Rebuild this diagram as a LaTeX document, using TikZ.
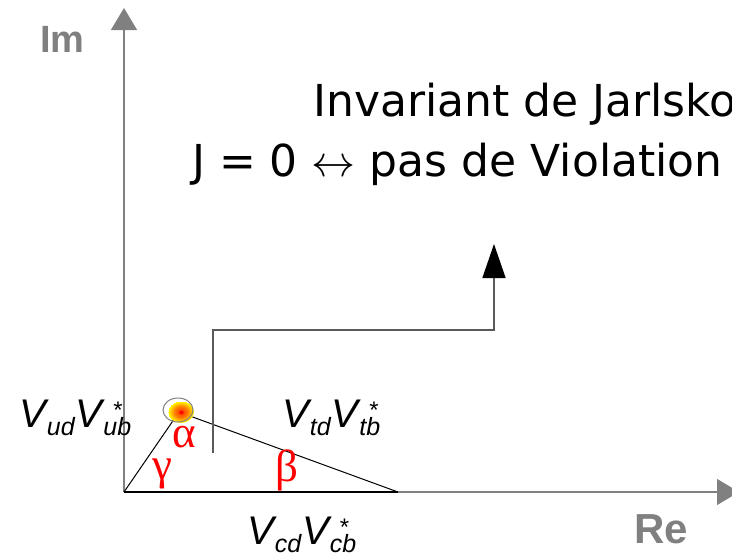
\RequirePackage{fix-cm}
\documentclass[tikz,border=0pt]{standalone}
\usepackage{fontspec}
\setmainfont{DejaVu Sans}
\newfontfamily\axisfont{Liberation Sans}
\newfontfamily\greekfont{Liberation Serif}
\usetikzlibrary{arrows.meta, positioning}
\definecolor{axisgray}{HTML}{808080}
\definecolor{linegray}{HTML}{5A5A5A}
% side of the unitarity triangle, #1 = u, t or c
\newcommand{\subtxt}[1]{\raisebox{-8pt}{\fontsize{25}{25}\selectfont #1}}
\newcommand{\ckmside}[1]{{\axisfont\itshape\fontsize{40}{42}\selectfont
  V\kern1pt\subtxt{#1d}\kern1pt V\rlap{\kern11pt\raisebox{9pt}{\fontsize{24}{24}\selectfont\upshape *}}\kern1pt\subtxt{#1b}}}

\begin{document}
\begin{tikzpicture}[x=1pt, y=-1pt,
  axis/.style={draw=axisgray, line width=1.3pt, -{Triangle[length=22pt, width=26pt]}},
  axlbl/.style={font=\axisfont\bfseries\fontsize{38}{40}\selectfont, text=axisgray, inner sep=0pt, anchor=base west},
  side/.style={draw=black, line width=1pt},
  title/.style={font=\fontsize{44}{50}\selectfont, inner sep=0pt, anchor=base west},
  angle/.style={font=\greekfont\fontsize{45}{50}\selectfont, text=red, inner sep=0pt, anchor=base west},
  vlbl/.style={inner sep=0pt, anchor=base west},
  jline/.style={draw=linegray, line width=1.4pt, -{Triangle[length=34pt, width=23pt, color=black]}},
]
  \path[use as bounding box] (0,0) rectangle (732,557);
  \clip (0,0) rectangle (732,557);
  \pgfdeclareradialshading{blobshade}{\pgfpoint{0bp}{0bp}}{color(0bp)=(red); color(3bp)=(red);
    color(5bp)=(orange!60!red); color(13bp)=(orange); color(20bp)=(orange!40!yellow); color(25bp)=(yellow)}

  % axes
  \coordinate (O) at (124,492);
  \coordinate (imtip) at (124,8);
  \coordinate (retip) at (739,492);
  \draw[axis] (O) -- (imtip);
  \draw[axis] (O) -- (retip);
  \node[axlbl] (im) at (40,52) {Im};
  \node[axlbl, font=\axisfont\bfseries\fontsize{42}{44}\selectfont] (re) at (634,543) {Re};

  % triangle
  \coordinate (A) at (179,412);
  \coordinate (B) at (398,492);
  \draw[side] (O) -- (A) -- (B);
  \draw[side, line width=1.6pt] (O) -- (B);
  \shade[shading=blobshade] (181,412) ellipse [x radius=13, y radius=11];
  \draw[axisgray, line width=1pt] (178,410) ellipse [x radius=15, y radius=12];

  % arrow to the Jarlskog text
  \coordinate (jbase) at (213,453);
  \coordinate (jknee) at (494,330);
  \coordinate (jtip) at (494,244);
  \draw[jline] (jbase) |- (jknee) -- (jtip);

  \node[title] (inv) at (313,116) {Invariant de Jarlskog};
  \node[title] (jzero) at (192,176) {J = 0 $\leftrightarrow$ pas de Violation};

  \node[vlbl] (vu) at (19,427) {\ckmside{u}};
  \node[vlbl] (vt) at (282,427) {\ckmside{t}};
  \node[vlbl] (vc) at (247,544) {\ckmside{c}};

  \node[angle] (alpha) at (172,447) {α};
  \node[angle] (gamma) at (152,479) {γ};
  \node[angle] (beta) at (275,481) {β};
\end{tikzpicture}
\end{document}
